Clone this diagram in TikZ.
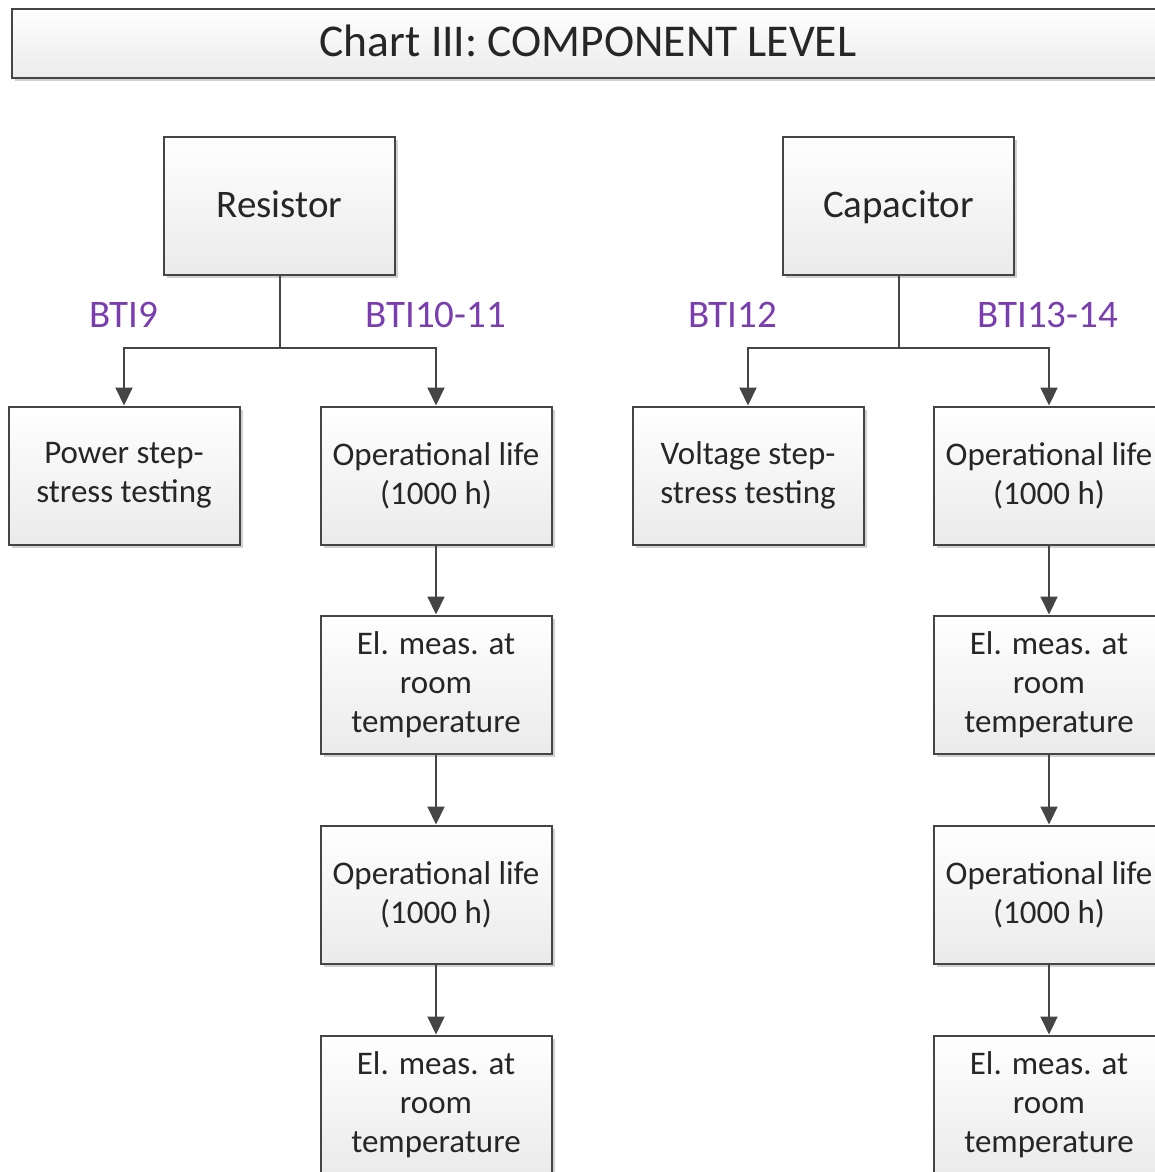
\documentclass[tikz,border=0pt]{standalone}
\usepackage{fontspec}
\setmainfont{Carlito}
\usepackage{xcolor}
\usetikzlibrary{arrows.meta, shadows}

\definecolor{btipurple}{HTML}{7A3DB0}
\definecolor{boxline}{HTML}{454545}

\begin{document}
\begin{tikzpicture}[
    x=1pt, y=-1pt,
    font=\fontsize{33}{39}\selectfont, text=black!85,
    box/.style={draw=boxline, line width=2pt, top color=white,
                bottom color=black!8, minimum width=231pt, minimum height=138pt,
                inner sep=0pt, align=center,
                drop shadow={shadow xshift=3pt, shadow yshift=-3pt,
                             opacity=0.18, fill=black}},
    top/.style={box, font=\fontsize{39}{44}\selectfont,
                text height=30pt, text depth=6pt},
    bti/.style={text=btipurple, font=\fontsize{39}{44}\selectfont},
    linea/.style={draw=boxline, line width=2pt},
    conn/.style={linea, -{Triangle[length=18pt, width=17pt]}}
  ]
  \useasboundingbox (0,0) rectangle (1155,1172);

  % --- Titulo ---
  \node[box, minimum width=1160pt, minimum height=69pt, anchor=north west,
        line width=2.4pt] (title) at (11,8) {};
  \node (ttext) at (588,41) {\fontsize{45.5}{50}\selectfont Chart III: COMPONENT LEVEL};

  % --- Resistor ---
  \node[top] (res) at (279.5,205.5) {Resistor};
  \node[box] (rpst) at (124,475.5) {Power step-\\stress testing};
  \node[box] (rol1) at (436,475.5) {Operational life\\(1000 h)};
  \node[box] (rem1) at (436,684.5) {El. meas. at\\room\\temperature};
  \node[box] (rol2) at (436,894.5) {Operational life\\(1000 h)};
  \node[box] (rem2) at (436,1104.5) {El. meas. at\\room\\temperature};

  % --- Capacitor ---
  \node[top] (cap) at (898.5,205.5) {Capacitor};
  \node[box] (cvst) at (748,475.5) {Voltage step-\\stress testing};
  \node[box] (col1) at (1049,475.5) {Operational life\\(1000 h)};
  \node[box] (cem1) at (1049,684.5) {El. meas. at\\room\\temperature};
  \node[box] (col2) at (1049,894.5) {Operational life\\(1000 h)};
  \node[box] (cem2) at (1049,1104.5) {El. meas. at\\room\\temperature};

  % --- Etiquetas ---
  \node[bti] (b9) at (124,315) {BTI9};
  \node[bti] (b1011) at (436,315) {BTI10-11};
  \node[bti] (b12) at (733,315) {BTI12};
  \node[bti] (b1314) at (1048,315) {BTI13-14};

  % --- Conexiones ---
  \coordinate (rj) at (279.5,348);
  \coordinate (cj) at (898.5,348);
  \draw[linea] (res) -- (rj);
  \draw[linea] (cap) -- (cj);
  \draw[conn] (rj) -| (rpst);
  \draw[conn] (rj) -| (rol1);
  \draw[conn] (cj) -| (cvst);
  \draw[conn] (cj) -| (col1);

  \foreach \a/\b in {rol1/rem1, rem1/rol2, rol2/rem2,
                     col1/cem1, cem1/col2, col2/cem2}
    \draw[conn] (\a) -- (\b);

\end{tikzpicture}
\end{document}
